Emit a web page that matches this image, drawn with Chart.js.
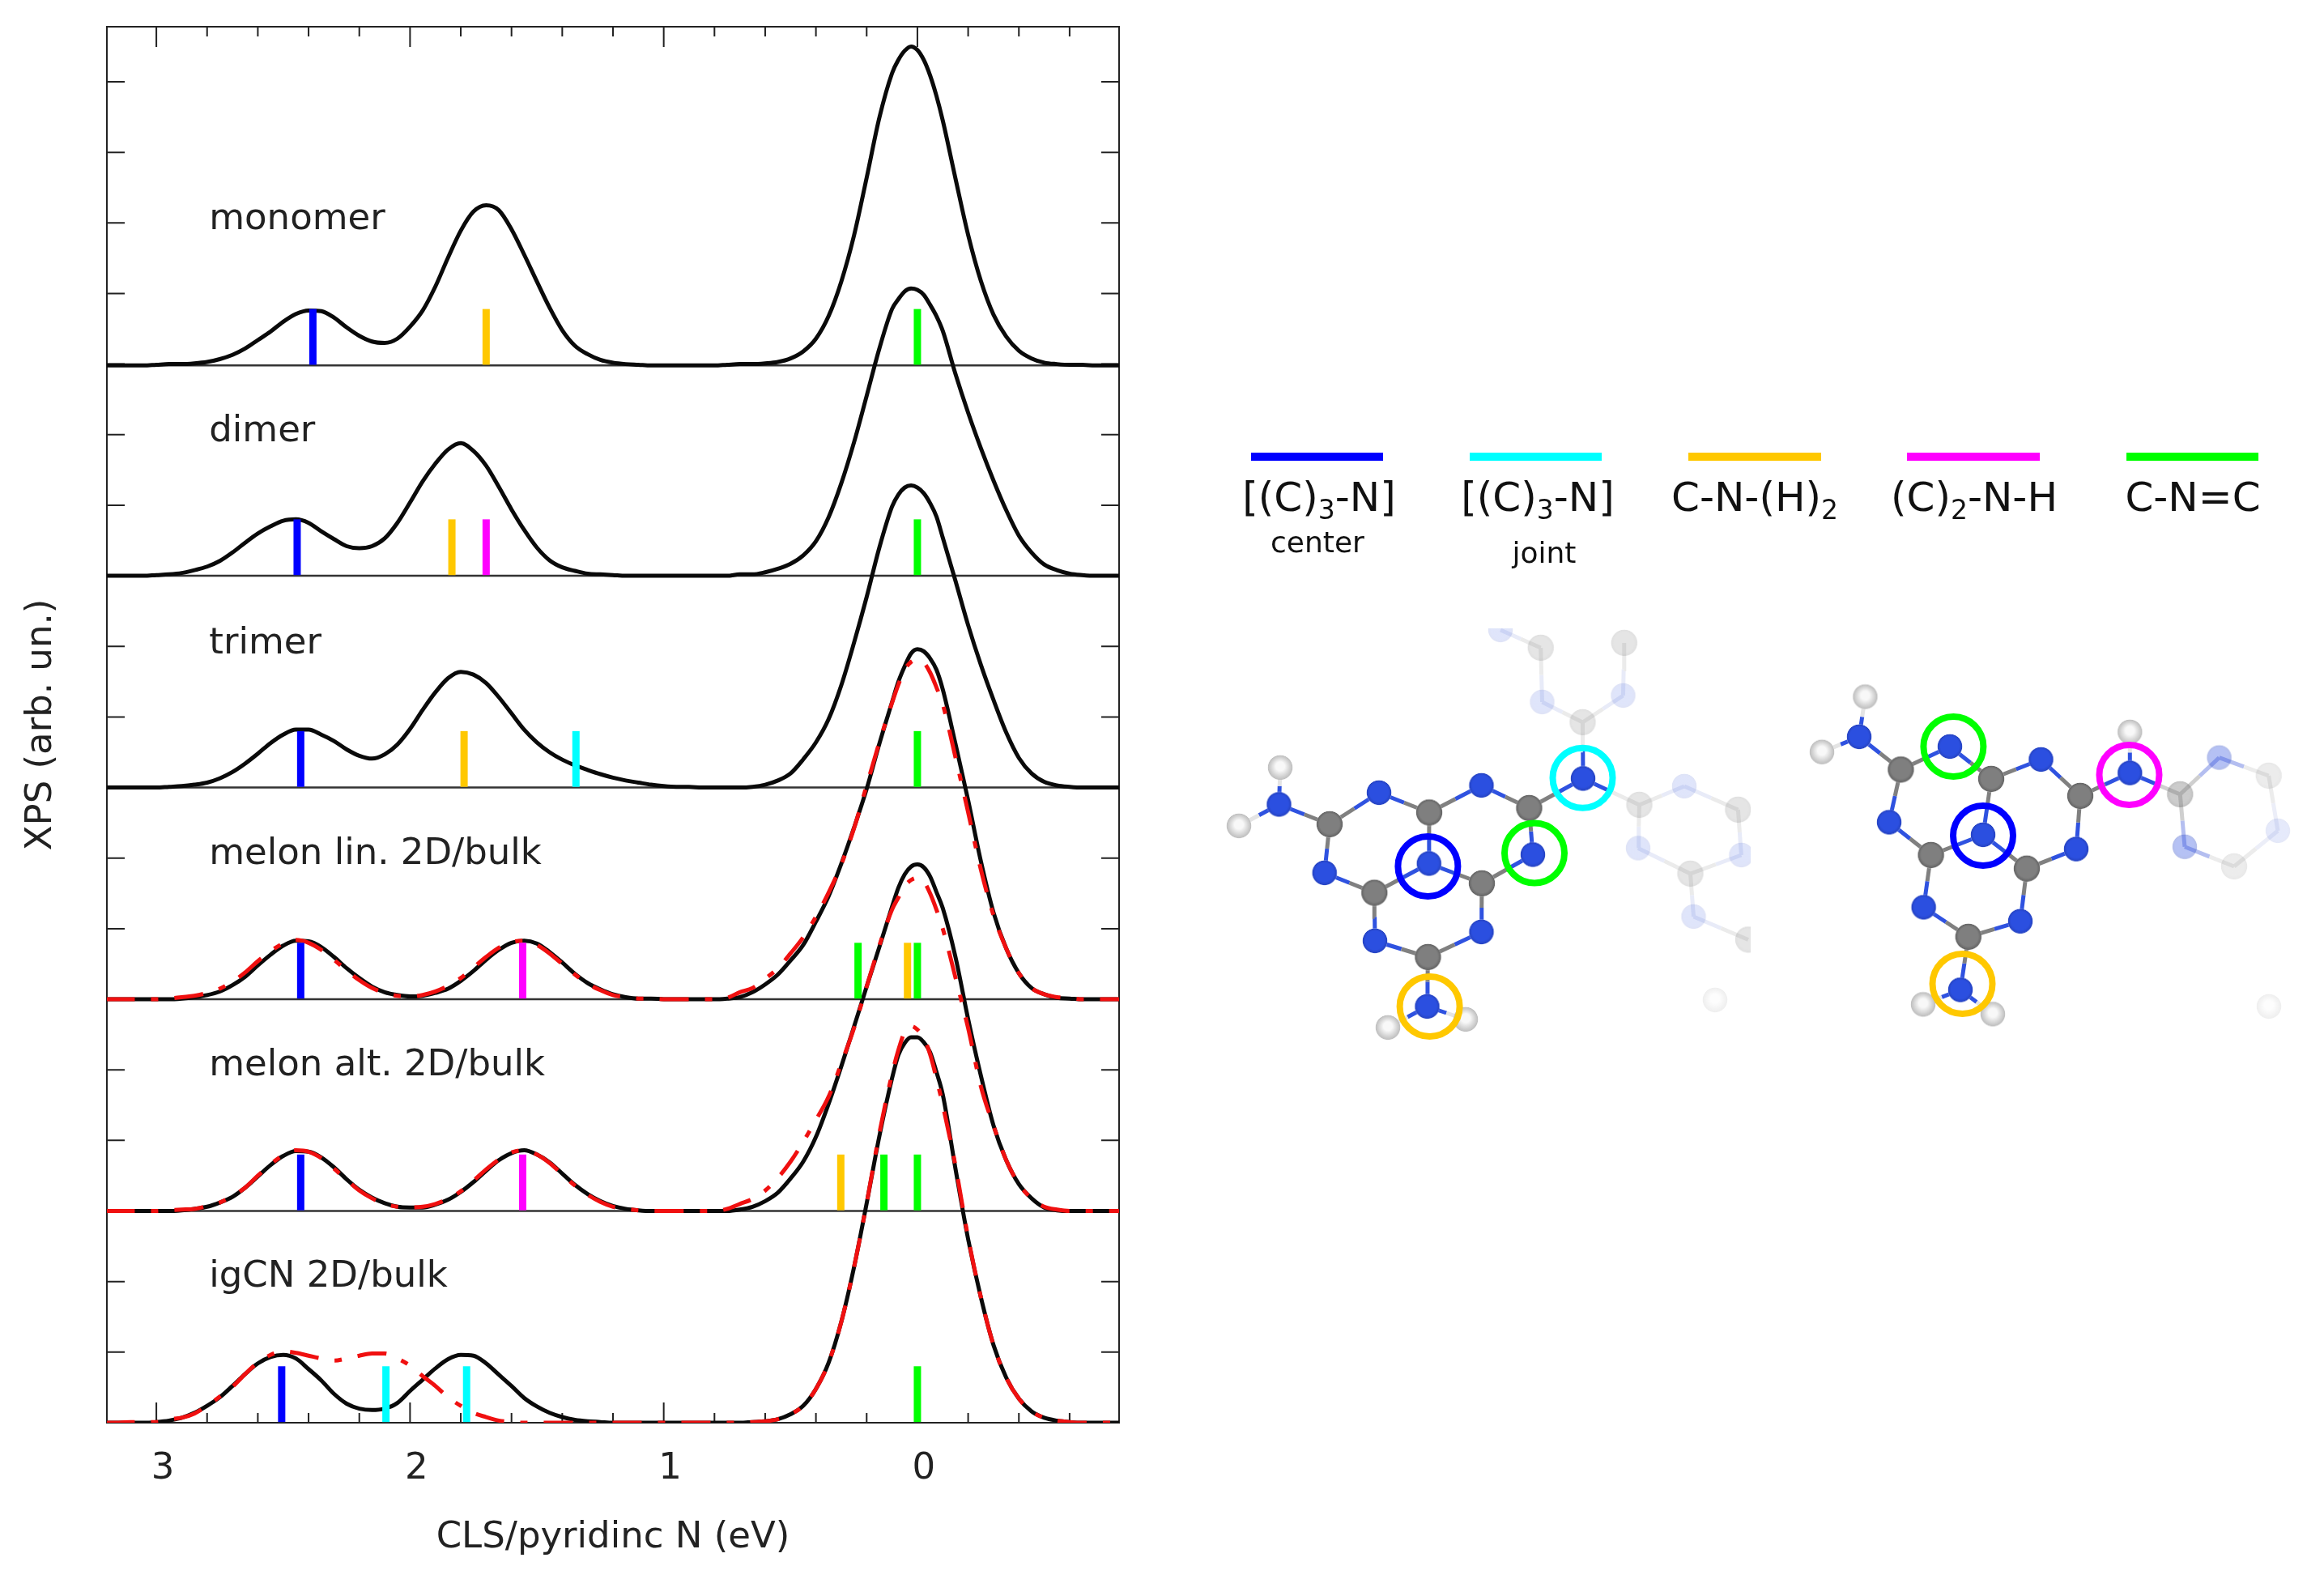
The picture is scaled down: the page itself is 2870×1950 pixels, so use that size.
<!DOCTYPE html>
<html>
<head>
<meta charset="utf-8">
<title>XPS</title>
<script src="https://cdn.jsdelivr.net/npm/chart.js@4/dist/chart.umd.min.js"></script>
<style>
  body { margin: 0; background: #fff; font-family: "DejaVu Sans", sans-serif; color: #111; }
  canvas { position: absolute; }
  .bar { position: absolute; top: 559px; height: 10px; }
  .lab { position: absolute; width: 300px; text-align: center; white-space: nowrap; }
  .big { top: 584px; font-size: 50px; line-height: 60px; }
  .small { font-size: 36px; line-height: 44px; }
  sub { font-size: 33px; line-height: 0; vertical-align: baseline; position: relative; top: 10px; }
</style>
</head>
<body>
<canvas id="spectra" width="2870" height="1950" style="left:0;top:0"></canvas>
<canvas id="mol1" width="662" height="524" style="left:1500px;top:776px"></canvas>
<canvas id="mol2" width="640" height="540" style="left:2200px;top:760px"></canvas>

<div class="bar" style="left:1545px;width:163px;background:#0000ff"></div>
<div class="bar" style="left:1815px;width:163px;background:#00ffff"></div>
<div class="bar" style="left:2085px;width:164px;background:#ffc800"></div>
<div class="bar" style="left:2355px;width:164px;background:#ff00ff"></div>
<div class="bar" style="left:2626px;width:163px;background:#00ff00"></div>
<div class="lab big" style="left:1479px">[(C)<sub>3</sub>-N]</div>
<div class="lab big" style="left:1749px">[(C)<sub>3</sub>-N]</div>
<div class="lab big" style="left:2017px">C-N-(H)<sub>2</sub></div>
<div class="lab big" style="left:2288px">(C)<sub>2</sub>-N-H</div>
<div class="lab big" style="left:2558px">C-N=C</div>
<div class="lab small" style="left:1477px;top:648px">center</div>
<div class="lab small" style="left:1757px;top:661px">joint</div>

<script>
// energy grid (eV), denser at the main peak
const energy = [
  3.2, 3.15, 3.1, 3.05, 3.0, 2.95, 2.9, 2.85, 2.8, 2.75,
  2.7, 2.65, 2.6, 2.55, 2.5, 2.45, 2.4, 2.35, 2.3, 2.25,
  2.2, 2.15, 2.1, 2.05, 2.0, 1.95, 1.9, 1.85, 1.8, 1.75,
  1.7, 1.65, 1.6, 1.55, 1.5, 1.45, 1.4, 1.35, 1.3, 1.25,
  1.2, 1.15, 1.1, 1.05, 1.0, 0.95, 0.9, 0.85, 0.8, 0.75,
  0.7, 0.65, 0.6, 0.55, 0.5, 0.45, 0.4, 0.35, 0.3, 0.25,
  0.2, 0.15, 0.1, 0.075, 0.05, 0.025, 0, -0.025, -0.05, -0.075,
  -0.1, -0.15, -0.2, -0.25, -0.3, -0.35, -0.4, -0.45, -0.5, -0.55,
  -0.6, -0.65, -0.7, -0.75, -0.8,
];

const monomer = [
  0, 0, 0, 0, 0.01, 0.02, 0.02, 0.03, 0.05, 0.09,
  0.15, 0.24, 0.36, 0.48, 0.62, 0.73, 0.78, 0.77, 0.68, 0.54,
  0.42, 0.34, 0.32, 0.38, 0.55, 0.78, 1.12, 1.53, 1.91, 2.18,
  2.27, 2.2, 1.93, 1.57, 1.19, 0.82, 0.5, 0.28, 0.16, 0.08,
  0.04, 0.02, 0.01, 0, 0, 0, 0, 0, 0, 0.01,
  0.02, 0.02, 0.03, 0.05, 0.1, 0.2, 0.38, 0.7, 1.19, 1.84,
  2.66, 3.51, 4.14, 4.33, 4.46, 4.52, 4.47, 4.33, 4.11, 3.82,
  3.47, 2.65, 1.85, 1.2, 0.72, 0.41, 0.21, 0.1, 0.04, 0.02,
  0.01, 0.01, 0, 0, 0,
];
const dimer = [
  0, 0, 0, 0, 0.01, 0.02, 0.04, 0.08, 0.13, 0.21,
  0.33, 0.47, 0.6, 0.7, 0.78, 0.8, 0.75, 0.63, 0.52, 0.42,
  0.39, 0.42, 0.53, 0.75, 1.04, 1.34, 1.59, 1.79, 1.88, 1.77,
  1.56, 1.26, 0.94, 0.65, 0.4, 0.22, 0.12, 0.07, 0.03, 0.02,
  0.01, 0, 0, 0, 0, 0, 0, 0, 0, 0,
  0.02, 0.02, 0.05, 0.1, 0.17, 0.29, 0.49, 0.83, 1.31, 1.89,
  2.55, 3.22, 3.78, 3.92, 4.03, 4.07, 4.05, 3.98, 3.84, 3.68,
  3.47, 2.86, 2.31, 1.81, 1.35, 0.93, 0.57, 0.33, 0.16, 0.08,
  0.03, 0.01, 0, 0, 0,
];
const trimer = [
  0, 0, 0, 0, 0, 0.01, 0.02, 0.04, 0.07, 0.13,
  0.22, 0.34, 0.48, 0.63, 0.75, 0.82, 0.82, 0.75, 0.66, 0.54,
  0.45, 0.41, 0.47, 0.61, 0.83, 1.1, 1.35, 1.55, 1.64, 1.6,
  1.48, 1.28, 1.05, 0.82, 0.64, 0.5, 0.395, 0.315, 0.25, 0.19,
  0.14, 0.1, 0.07, 0.04, 0.02, 0.01, 0.01, 0, 0, 0,
  0, 0.01, 0.04, 0.1, 0.2, 0.4, 0.64, 0.97, 1.45, 2.05,
  2.7, 3.4, 3.98, 4.15, 4.25, 4.28, 4.25, 4.17, 4.03, 3.84,
  3.54, 2.93, 2.3, 1.74, 1.24, 0.78, 0.42, 0.2, 0.08, 0.03,
  0.01, 0, 0, 0, 0,
];
const melonLin = [
  0, 0, 0, 0, 0, 0, 0.01, 0.03, 0.06, 0.11,
  0.2, 0.32, 0.48, 0.63, 0.76, 0.83, 0.82, 0.74, 0.6, 0.44,
  0.3, 0.18, 0.1, 0.06, 0.04, 0.05, 0.09, 0.15, 0.26, 0.4,
  0.56, 0.7, 0.8, 0.83, 0.79, 0.67, 0.52, 0.36, 0.23, 0.14,
  0.07, 0.03, 0.01, 0.01, 0, 0, 0, 0, 0, 0.01,
  0.03, 0.1, 0.21, 0.35, 0.55, 0.77, 1.1, 1.46, 1.92, 2.43,
  2.98, 3.62, 4.21, 4.5, 4.72, 4.9, 4.96, 4.93, 4.83, 4.67,
  4.39, 3.62, 2.82, 1.96, 1.23, 0.72, 0.37, 0.16, 0.07, 0.02,
  0.01, 0, 0, 0, 0,
];
const melonLinBulk = [
  0, 0, 0, 0, 0, 0.01, 0.03, 0.05, 0.09, 0.15,
  0.25, 0.38, 0.54, 0.68, 0.79, 0.84, 0.8, 0.7, 0.56, 0.41,
  0.27, 0.16, 0.09, 0.05, 0.04, 0.06, 0.11, 0.19, 0.3, 0.45,
  0.6, 0.73, 0.81, 0.83, 0.77, 0.65, 0.5, 0.35, 0.22, 0.13,
  0.06, 0.03, 0.01, 0.01, 0, 0, 0, 0, 0, 0.02,
  0.1, 0.16, 0.29, 0.44, 0.65, 0.88, 1.17, 1.51, 1.91, 2.42,
  3.03, 3.64, 4.2, 4.46, 4.67, 4.78, 4.81, 4.77, 4.63, 4.42,
  4.18, 3.43, 2.65, 1.84, 1.19, 0.72, 0.37, 0.16, 0.07, 0.03,
  0.02, 0, 0, 0, 0,
];
const melonAlt = [
  0, 0, 0, 0, 0, 0, 0.01, 0.03, 0.06, 0.12,
  0.2, 0.33, 0.49, 0.65, 0.78, 0.85, 0.84, 0.76, 0.62, 0.45,
  0.3, 0.19, 0.11, 0.06, 0.05, 0.05, 0.09, 0.16, 0.27, 0.41,
  0.57, 0.72, 0.82, 0.86, 0.8, 0.69, 0.53, 0.37, 0.24, 0.14,
  0.07, 0.03, 0.01, 0, 0, 0, 0, 0, 0, 0,
  0.02, 0.06, 0.14, 0.26, 0.46, 0.7, 1.05, 1.52, 2.05, 2.61,
  3.18, 3.74, 4.31, 4.58, 4.77, 4.88, 4.91, 4.87, 4.74, 4.52,
  4.29, 3.6, 2.72, 1.92, 1.21, 0.72, 0.38, 0.18, 0.05, 0.01,
  0, 0, 0, 0, 0,
];
const melonAltBulk = [
  0, 0, 0, 0, 0, 0.01, 0.02, 0.03, 0.07, 0.12,
  0.21, 0.33, 0.5, 0.66, 0.79, 0.86, 0.84, 0.75, 0.6, 0.44,
  0.29, 0.18, 0.1, 0.06, 0.05, 0.06, 0.1, 0.17, 0.28, 0.43,
  0.59, 0.73, 0.83, 0.86, 0.8, 0.68, 0.52, 0.36, 0.23, 0.13,
  0.06, 0.03, 0.01, 0, 0, 0, 0, 0, 0, 0.03,
  0.1, 0.17, 0.29, 0.47, 0.7, 0.98, 1.29, 1.62, 2.09, 2.59,
  3.18, 3.76, 4.27, 4.44, 4.6, 4.69, 4.72, 4.67, 4.5, 4.27,
  4, 3.31, 2.59, 1.77, 1.21, 0.72, 0.38, 0.18, 0.06, 0.02,
  0, 0, 0, 0, 0,
];
const igcn = [
  0, 0, 0, 0, 0.01, 0.03, 0.07, 0.14, 0.24, 0.36,
  0.52, 0.69, 0.84, 0.93, 0.96, 0.91, 0.76, 0.6, 0.41, 0.27,
  0.2, 0.18, 0.2, 0.28, 0.45, 0.61, 0.77, 0.9, 0.96, 0.95,
  0.84, 0.68, 0.52, 0.35, 0.23, 0.14, 0.08, 0.04, 0.02, 0.01,
  0, 0, 0, 0, 0, 0, 0, 0, 0, 0,
  0, 0.01, 0.02, 0.05, 0.12, 0.24, 0.48, 0.85, 1.43, 2.2,
  3.11, 4.06, 4.88, 5.21, 5.38, 5.46, 5.46, 5.39, 5.25, 4.97,
  4.65, 3.6, 2.6, 1.78, 1.1, 0.64, 0.34, 0.16, 0.07, 0.03,
  0.01, 0, 0, 0, 0,
];
const igcnBulk = [
  0, 0, 0.01, 0.01, 0.01, 0.05, 0.07, 0.13, 0.24, 0.37,
  0.51, 0.69, 0.85, 0.96, 1.01, 0.99, 0.95, 0.91, 0.88, 0.91,
  0.95, 0.98, 0.98, 0.91, 0.81, 0.66, 0.52, 0.36, 0.24, 0.14,
  0.08, 0.03, 0.01, 0, 0, 0, 0, 0, 0, 0,
  0, 0, 0, 0, 0, 0, 0, 0, 0, 0,
  0, 0.01, 0.02, 0.05, 0.12, 0.24, 0.48, 0.85, 1.43, 2.2,
  3.11, 4.1, 4.94, 5.28, 5.54, 5.62, 5.57, 5.45, 5.22, 4.88,
  4.5, 3.64, 2.62, 1.78, 1.1, 0.64, 0.34, 0.16, 0.07, 0.03,
  0.01, 0, 0, 0, 0,
];

const panelNames = ["monomer", "dimer", "trimer", "melon lin. 2D/bulk", "melon alt. 2D/bulk", "igCN 2D/bulk"];
const panelBase = [14.98, 12, 9, 6, 3, 0];
const panelNameHeight = [1.93, 1.9, 1.9, 1.92, 1.92, 1.93];
const panelCurves = [monomer, dimer, trimer, melonLin, melonAlt, igcn];
const panelBulk = [null, null, null, melonLinBulk, melonAltBulk, igcnBulk];

// stick positions per panel, one list per nitrogen type
const sticksCenter = [[2.383], [2.445], [2.431], [2.431], [2.431], [2.506]];
const sticksJoint = [[], [], [1.346], [], [], [2.095, 1.777]];
const sticksNH2 = [[1.7], [1.835], [1.787], [0.039], [0.302], []];
const sticksNH = [[], [1.7], [], [1.556], [1.556], []];
const sticksCNC = [[0], [0], [0], [0.234, 0], [0.132, 0], [0]];
const stickHeight = 0.8;

const xTicks = [3, 2.8, 2.6, 2.4, 2.2, 2, 1.8, 1.6, 1.4, 1.2, 1, 0.8, 0.6, 0.4, 0.2, 0, -0.2, -0.4, -0.6];
const yTicks = [1, 2, 3, 4, 5, 6, 7, 8, 9, 10, 11, 12, 13, 14, 15, 16, 17, 18, 19];

// molecule on the left: atoms in page pixels
// indices run through N, C, H, faded N, faded C, faded H
const mol1N = [[1579.5, 993.5], [1703, 979], [1829.5, 970], [1635.7, 1078], [1764.7, 1066.5], [1893, 1055.5], [1955, 961.5], [1698, 1162], [1829.5, 1151], [1762.5, 1243]];
const mol1C = [[1642, 1018], [1765, 1003.5], [1888.4, 998], [1697.3, 1102.6], [1830, 1091], [1763.4, 1182]];
const mol1H = [[1581, 948], [1530, 1020], [1714, 1269], [1810, 1259]];
const mol1FadedN = [[1904.5, 867], [2004.5, 859], [2080, 971], [2023, 1047.5], [2150.4, 1056], [2091.5, 1132], [1853, 778]];
const mol1FadedC = [[1902.7, 800], [2005.8, 794], [1954.5, 892], [2024.5, 994], [2146.4, 1000], [2087.5, 1079], [2159, 1160.5]];
const mol1FadedH = [[2118, 1235]];
const mol1Bonds = [[0, 10], [1, 10], [1, 11], [2, 11], [2, 12], [3, 10], [3, 13], [4, 13], [4, 11], [4, 14], [7, 13], [7, 15], [8, 15], [8, 14], [5, 14], [5, 12], [6, 12], [6, 29], [6, 30], [9, 15], [9, 18], [9, 19], [0, 16], [0, 17]];
const mol1FadedBonds = [[29, 20], [29, 21], [20, 27], [21, 28], [27, 26], [30, 22], [22, 31], [31, 24], [24, 32], [32, 23], [23, 30], [32, 25], [25, 33]];
const mol1Rings = { blue: [[1763.4, 1070]], green: [[1895, 1053.5]], cyan: [[1954.5, 960.8]], orange: [[1765.6, 1243]] };

// molecule on the right
// indices run through N, C, H, half N, half C, faded N, faded C, faded H
const mol2N = [[2296, 910], [2408, 922], [2520.5, 938], [2333, 1015.5], [2449, 1031], [2630.3, 954.6], [2564, 1048.6], [2375.6, 1120.5], [2495, 1137.8], [2421, 1222.5]];
const mol2C = [[2347.4, 950.4], [2459, 962], [2569, 983], [2384.6, 1056], [2503, 1072.7], [2430.8, 1157]];
const mol2H = [[2303.4, 860.5], [2250, 928.7], [2630.3, 904], [2375, 1240.4], [2461, 1252.4]];
const mol2HalfN = [[2740.6, 935.6], [2698, 1045.8]];
const mol2HalfC = [[2692.3, 981]];
const mol2FadedN = [[2813, 1026]];
const mol2FadedC = [[2801.7, 958], [2759, 1070]];
const mol2FadedH = [[2802, 1243]];
const mol2Bonds = [[0, 10], [0, 16], [0, 17], [1, 10], [1, 11], [2, 11], [2, 12], [5, 12], [5, 18], [5, 23], [3, 10], [3, 13], [4, 13], [4, 11], [4, 14], [6, 14], [6, 12], [7, 13], [7, 15], [8, 15], [8, 14], [9, 15], [9, 19], [9, 20]];
const mol2FadedBonds = [[23, 21], [21, 25], [25, 24], [24, 26], [26, 22], [22, 23]];
const mol2Rings = { blue: [[2449, 1032]], green: [[2412.4, 922]], magenta: [[2629.5, 957]], orange: [[2423.5, 1215]] };

const colors = { blue: "#0000ff", cyan: "#00ffff", orange: "#ffc800", magenta: "#ff00ff", green: "#00ff00" };
const fontName = '"DejaVu Sans", sans-serif';

function curvePoints(values, base) {
  return values.map((v, i) => ({ x: energy[i], y: base + v }));
}

const spectraSets = [];

panelBase.forEach((base, p) => {
  if (base > 0) {
    spectraSets.push({
      data: [{ x: -0.795, y: base }, { x: 3.195, y: base }],
      showLine: true, pointRadius: 0, borderColor: "#333", borderWidth: 2.5, order: 4,
    });
  }
  spectraSets.push({
    label: panelNames[p],
    data: curvePoints(panelCurves[p], base),
    showLine: true, pointRadius: 0, borderColor: "#0a0a0a", borderWidth: 5,
    cubicInterpolationMode: "monotone", order: 3,
  });
  if (panelBulk[p]) {
    spectraSets.push({
      label: panelNames[p] + " bulk",
      data: curvePoints(panelBulk[p], base),
      showLine: true, pointRadius: 0, borderColor: "#f01010", borderWidth: 5,
      borderDash: [36, 20, 9, 20], cubicInterpolationMode: "monotone", order: 2,
    });
  }
  [[sticksCenter, colors.blue], [sticksJoint, colors.cyan], [sticksNH2, colors.orange], [sticksNH, colors.magenta], [sticksCNC, colors.green]].forEach(([group, color]) => {
    group[p].forEach((pos) => {
      spectraSets.push({
        data: [{ x: pos, y: base + 0.01 }, { x: pos, y: base + stickHeight }],
        showLine: true, pointRadius: 0, borderColor: color, borderWidth: 9, order: 1,
      });
    });
  });
});

// frame, inward ticks on all four sides and the panel names
const framePlugin = {
  id: "frame",
  beforeDatasetsDraw(chart) {
    const { ctx, chartArea: a, scales } = chart;
    ctx.save();
    ctx.strokeStyle = "#222";
    ctx.lineWidth = 2;
    ctx.beginPath();
    xTicks.forEach((t) => {
      const px = scales.x.getPixelForValue(t);
      const len = Number.isInteger(t) ? 25 : 12;
      ctx.moveTo(px, a.top);
      ctx.lineTo(px, a.top + len);
      ctx.moveTo(px, a.bottom);
      ctx.lineTo(px, a.bottom - len);
    });
    yTicks.forEach((t) => {
      const py = scales.y.getPixelForValue(t);
      ctx.moveTo(a.left, py);
      ctx.lineTo(a.left + 22, py);
      ctx.moveTo(a.right, py);
      ctx.lineTo(a.right - 22, py);
    });
    ctx.stroke();
    ctx.strokeRect(a.left, a.top, a.right - a.left, a.bottom - a.top);
    ctx.fillStyle = "#222";
    ctx.font = "45px " + fontName;
    ctx.textBaseline = "alphabetic";
    panelNames.forEach((name, p) => {
      ctx.fillText(name, scales.x.getPixelForValue(2.792), scales.y.getPixelForValue(panelBase[p] + panelNameHeight[p]));
    });
    ctx.restore();
  },
};

new Chart(document.getElementById("spectra"), {
  type: "scatter",
  data: { datasets: spectraSets },
  plugins: [framePlugin],
  options: {
    responsive: false,
    animation: false,
    devicePixelRatio: 1,
    layout: { padding: { left: 24, right: 1488, top: 33, bottom: 0 } },
    plugins: { legend: { display: false }, tooltip: { enabled: false } },
    scales: {
      x: {
        type: "linear",
        reverse: true,
        min: -0.795,
        max: 3.195,
        afterFit: (s) => { s.height = 1950 - 1757; },
        afterBuildTicks: (s) => { s.ticks = xTicks.map((v) => ({ value: v })); },
        grid: { display: false, drawTicks: false },
        border: { display: false },
        ticks: {
          autoSkip: false,
          maxRotation: 0,
          padding: 30,
          labelOffset: 8,
          color: "#222",
          font: { size: 45, family: fontName },
          callback: (v) => (Number.isInteger(v) ? String(v) : ""),
        },
        title: {
          display: true,
          text: "CLS/pyridinc N (eV)",
          color: "#222",
          font: { size: 45, family: fontName },
          padding: { top: 0, bottom: 24 },
        },
      },
      y: {
        type: "linear",
        min: 0,
        max: 19.78,
        afterFit: (s) => { s.width = 108; },
        grid: { display: false, drawTicks: false },
        border: { display: false },
        ticks: { display: false },
        title: {
          display: true,
          text: "XPS (arb. un.)",
          color: "#222",
          font: { size: 45, family: fontName },
          padding: { top: 0, bottom: 0 },
        },
      },
    },
  },
});

// shaded sphere used as point style
function sphere(atom) {
  const r = atom.radius;
  const c = document.createElement("canvas");
  c.width = c.height = r * 2 + 2;
  const g = c.getContext("2d");
  const mid = r + 1;
  const grad = g.createRadialGradient(mid, mid - r * 0.15, 1, mid, mid, r);
  grad.addColorStop(0, atom.inner);
  grad.addColorStop(atom.core, atom.inner);
  grad.addColorStop(0.92, atom.outer);
  grad.addColorStop(1, "rgba(255,255,255,0)");
  g.globalAlpha = atom.alpha;
  g.fillStyle = grad;
  g.beginPath();
  g.arc(mid, mid, r, 0, Math.PI * 2);
  g.fill();
  return c;
}

function atomSet(points, style, radius) {
  return { data: points.map(([x, y]) => ({ x, y })), pointStyle: style, pointRadius: radius, showLine: false, order: 2 };
}

function bondSet(a, b, colorA, colorB) {
  const mid = { x: (a[0] + b[0]) / 2, y: (a[1] + b[1]) / 2 };
  return {
    data: [{ x: a[0], y: a[1] }, mid, { x: b[0], y: b[1] }],
    showLine: true, pointRadius: 0, borderWidth: 5, borderColor: colorA, order: 3,
    segment: { borderColor: (ctx) => (ctx.p0DataIndex === 0 ? colorA : colorB) },
  };
}

function drawMolecule(id, box, groups, rings) {
  const datasets = [];
  const all = [];
  const tint = [];
  groups.forEach((grp) => {
    grp.points.forEach((pt) => { all.push(pt); tint.push(grp.bond); });
    datasets.push(atomSet(grp.points, sphere(grp), grp.radius));
  });
  box.bonds.forEach(([a, b]) => datasets.push(bondSet(all[a], all[b], tint[a], tint[b])));
  box.fadedBonds.forEach(([a, b]) => datasets.push(bondSet(all[a], all[b], tint[a], tint[b])));
  Object.keys(rings).forEach((name) => {
    datasets.push({
      data: rings[name].map(([x, y]) => ({ x, y })),
      pointStyle: "circle", pointRadius: 37, pointBorderWidth: 8,
      pointBorderColor: colors[name], pointBackgroundColor: "rgba(0,0,0,0)", showLine: false, order: 1,
    });
  });
  new Chart(document.getElementById(id), {
    type: "scatter",
    data: { datasets },
    options: {
      responsive: false,
      animation: false,
      devicePixelRatio: 1,
      layout: { padding: 0, autoPadding: false },
      plugins: { legend: { display: false }, tooltip: { enabled: false } },
      scales: {
        x: { type: "linear", display: false, min: box.x0, max: box.x1 },
        y: { type: "linear", display: false, reverse: true, min: box.y0, max: box.y1 },
      },
    },
  });
}

const nitrogen = { radius: 16, inner: "#2b4fe0", outer: "#2644c4", core: 0.7, alpha: 1, bond: "#2f52e0" };
const carbon = { radius: 17, inner: "#7f7f7f", outer: "#666", core: 0.7, alpha: 1, bond: "#808080" };
const hydrogen = { radius: 16, inner: "#f8f8f8", outer: "#c0c0c0", core: 0.3, alpha: 1, bond: "#e4e4e4" };
const faded = (base, alpha, bond) => ({ ...base, alpha, bond });

drawMolecule("mol1", { x0: 1500, x1: 2162, y0: 776, y1: 1300, bonds: mol1Bonds, fadedBonds: mol1FadedBonds }, [
  { ...nitrogen, points: mol1N },
  { ...carbon, points: mol1C },
  { ...hydrogen, points: mol1H },
  { ...faded(nitrogen, 0.15, "#e8ebf8"), points: mol1FadedN },
  { ...faded(carbon, 0.2, "#ebebeb"), points: mol1FadedC },
  { ...faded(hydrogen, 0.25, "#f4f4f4"), points: mol1FadedH },
], mol1Rings);

drawMolecule("mol2", { x0: 2200, x1: 2840, y0: 760, y1: 1300, bonds: mol2Bonds, fadedBonds: mol2FadedBonds }, [
  { ...nitrogen, points: mol2N },
  { ...carbon, points: mol2C },
  { ...hydrogen, points: mol2H },
  { ...faded(nitrogen, 0.35, "#b4bef0"), points: mol2HalfN },
  { ...faded(carbon, 0.4, "#cfcfcf"), points: mol2HalfC },
  { ...faded(nitrogen, 0.12, "#eceef8"), points: mol2FadedN },
  { ...faded(carbon, 0.15, "#ececec"), points: mol2FadedC },
  { ...faded(hydrogen, 0.25, "#f4f4f4"), points: mol2FadedH },
], mol2Rings);
</script>
</body>
</html>
